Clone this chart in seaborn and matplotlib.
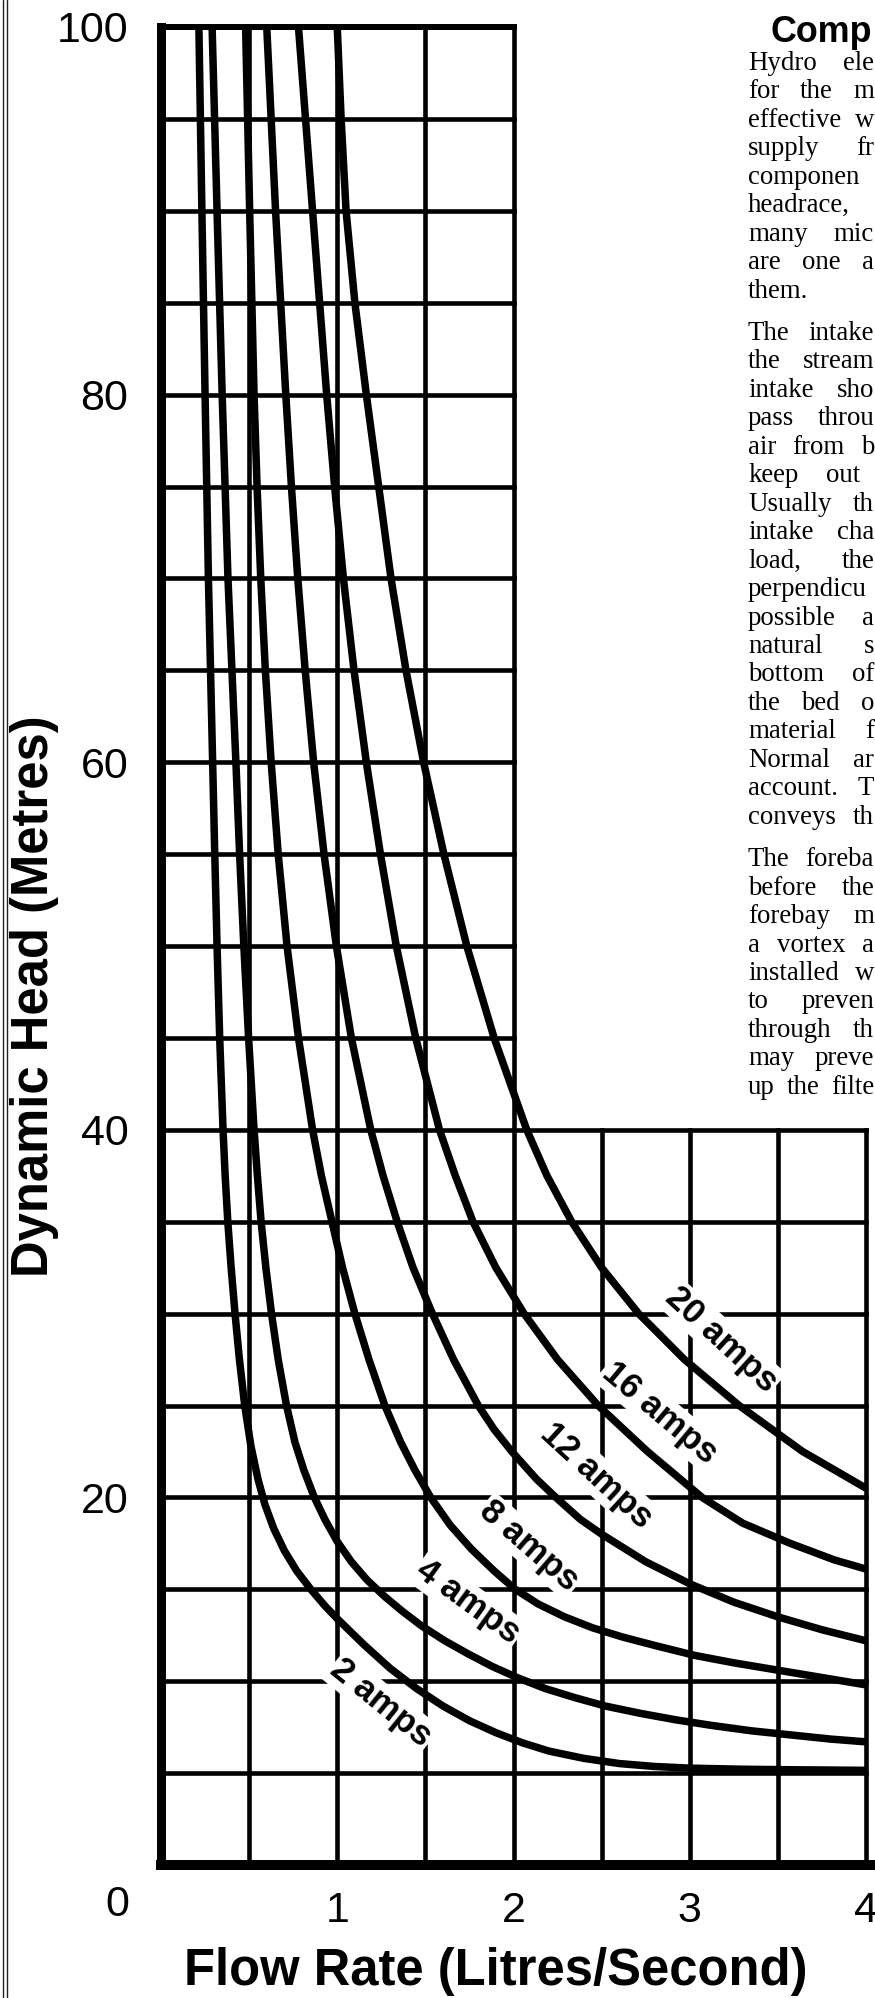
import matplotlib
matplotlib.use("Agg")
import matplotlib.pyplot as plt
from matplotlib.lines import Line2D
import numpy as np
import pandas as pd
import seaborn as sns

# ---------------- data ----------------
amps_labels = ["2 amps", "4 amps", "8 amps", "12 amps", "16 amps", "20 amps"]

q_2a = [0.215, 0.232, 0.250, 0.269, 0.293, 0.305, 0.318, 0.333, 0.352, 0.364, 0.379, 0.398,
        0.42, 0.445, 0.475, 0.51, 0.55, 0.59, 0.64, 0.70, 0.77, 0.85, 0.93, 1.0, 1.15, 1.3,
        1.45, 1.6, 1.75, 1.9, 2.05, 2.2, 2.4, 2.6, 2.8, 3.0, 3.3, 3.6, 4.0]
h_2a = [100, 90, 80, 70, 60, 55, 50, 45, 40, 37.5, 35, 32.5,
        30, 27.5, 25, 22.8, 21.0, 19.6, 18.3, 17.1, 16.0, 15.0, 14.1, 13.4, 12.0, 10.7,
        9.6, 8.65, 7.85, 7.2, 6.65, 6.2, 5.8, 5.52, 5.36, 5.27, 5.21, 5.18, 5.15]

q_4a = [0.290, 0.318, 0.347, 0.380, 0.425, 0.446, 0.470, 0.497, 0.528, 0.547, 0.568, 0.595,
        0.627, 0.665, 0.712, 0.76, 0.81, 0.87, 0.93, 1.0, 1.08, 1.17, 1.27, 1.37, 1.48,
        1.61, 1.74, 1.88, 2.02, 2.18, 2.35, 2.52, 2.72, 2.92, 3.12, 3.35, 3.6, 3.8, 4.0]
h_4a = [100, 90, 80, 70, 60, 55, 50, 45, 40, 37.5, 35, 32.5,
        30, 27.5, 25, 23, 21.5, 20, 18.8, 17.6, 16.5, 15.5, 14.6, 13.8, 13.0,
        12.2, 11.5, 10.8, 10.2, 9.6, 9.1, 8.65, 8.25, 7.9, 7.6, 7.3, 7.05, 6.85, 6.7]

q_8a = [0.48, 0.503, 0.528, 0.545, 0.566, 0.592, 0.625, 0.665, 0.715, 0.78, 0.86, 0.91,
        0.97, 1.03, 1.10, 1.18, 1.27, 1.36, 1.44, 1.53, 1.64, 1.76, 1.89, 2.01, 2.14,
        2.29, 2.45, 2.62, 2.82, 3.03, 3.25, 3.5, 3.75, 4.0]
h_8a = [100, 90, 80, 75, 70, 65, 60, 55, 50, 45, 40, 37.5,
        35, 32.5, 30, 27.5, 25, 23, 21.5, 20, 18.5, 17.2, 16, 15, 14.2,
        13.5, 12.9, 12.4, 11.9, 11.4, 11.0, 10.6, 10.2, 9.8]

q_12a = [0.60, 0.65, 0.708, 0.74, 0.776, 0.818, 0.866, 0.925, 0.995, 1.08, 1.19, 1.26,
         1.34, 1.43, 1.54, 1.66, 1.80, 1.89, 1.99, 2.13, 2.24, 2.38, 2.50, 2.75, 3.0,
         3.25, 3.5, 3.75, 4.0]
h_12a = [100, 90, 80, 75, 70, 65, 60, 55, 50, 45, 40, 37.5,
         35, 32.5, 30, 27.5, 25, 23.7, 22.5, 21, 20, 18.8, 18, 16.5, 15.3,
         14.3, 13.5, 12.8, 12.2]

q_16a = [0.78, 0.86, 0.94, 0.985, 1.035, 1.095, 1.165, 1.245, 1.335, 1.445, 1.58, 1.67,
         1.77, 1.90, 2.06, 2.25, 2.48, 2.76, 3.07, 3.30, 3.57, 3.82, 4.0]
h_16a = [100, 90, 80, 75, 70, 65, 60, 55, 50, 45, 40, 37.5,
         35, 32.5, 30, 27.5, 25, 22.5, 20, 18.6, 17.5, 16.6, 16.1]

q_20a = [1.0, 1.022, 1.05, 1.10, 1.165, 1.235, 1.305, 1.39, 1.49, 1.605, 1.735, 1.89,
         2.075, 2.19, 2.33, 2.5, 2.71, 2.97, 3.28, 3.64, 4.0]
h_20a = [100, 95, 90, 85, 80, 75, 70, 65, 60, 55, 50, 45,
         40, 37.5, 35, 32.5, 30, 27.5, 25, 22.5, 20.5]

x_ticks = [1, 2, 3, 4]
y_ticks = [20, 40, 60, 80, 100]
x_label = "Flow Rate (Litres/Second)"
y_label = "Dynamic Head (Metres)"
title_text = "Comp"

para_1 = ["Hydro ele", "for the m", "effective w", "supply fr", "componen",
          "headrace,", "many mic", "are one a", "them."]
para_2 = ["The intake", "the stream", "intake sho", "pass throu", "air from b",
          "keep out", "Usually th", "intake cha", "load, the", "perpendicu",
          "possible a", "natural s", "bottom of", "the bed o", "material f",
          "Normal ar", "account. T", "conveys th"]
para_3 = ["The foreba", "before the", "forebay m", "a vortex a", "installed w",
          "to preven", "through th", "may preve", "up the filte"]

# ---------------- styling ----------------
sns.set_theme(style="white")
plt.rcParams["font.family"] = ["Liberation Sans", "DejaVu Sans"]
SERIF = ["Liberation Serif", "DejaVu Serif"]

W, H = 875, 1998
PX = 0.72  # points per pixel at dpi 100

fig = plt.figure(figsize=(W / 100, H / 100), dpi=100)
fig.patch.set_facecolor("white")
ax = fig.add_axes([161 / W, 1 - 1865 / H, 705 / W, 1838 / H])
ax.set_facecolor("white")
ax.set_xlim(0, 4)
ax.set_ylim(0, 100)
for s in ax.spines.values():
    s.set_visible(False)
ax.grid(False)

# ---------------- grid (L-shaped) ----------------
gkw = dict(color="black", lw=4.6 * PX, clip_on=False, zorder=1, capstyle="projecting")
for xv in [0.5, 1.0, 1.5, 2.0]:
    ax.vlines(xv, 0, 100, **gkw)
for xv in [2.5, 3.0, 3.5, 4.0]:
    ax.vlines(xv, 0, 40, **gkw)
for yv in range(5, 100, 5):
    ax.hlines(yv, 0, 4 if yv <= 40 else 2, **gkw)
ax.hlines(100, 0, 2, color="black", lw=6 * PX, clip_on=False, zorder=3, capstyle="projecting")
ax.vlines(0, 0, 100, color="black", lw=9 * PX, clip_on=False, zorder=3, capstyle="projecting")
ax.hlines(0, 0, 4.07, color="black", lw=10 * PX, clip_on=False, zorder=3, capstyle="projecting")

# ---------------- curves ----------------
series = [(q_2a, h_2a), (q_4a, h_4a), (q_8a, h_8a), (q_12a, h_12a), (q_16a, h_16a), (q_20a, h_20a)]
frames = []
for lab, (q, h) in zip(amps_labels, series):
    frames.append(pd.DataFrame({"Q": q, "H": h, "amps": lab}))
df = pd.concat(frames, ignore_index=True)
sns.lineplot(data=df, x="Q", y="H", hue="amps", hue_order=amps_labels,
             palette=["black"] * len(amps_labels), sort=False, estimator=None,
             legend=False, lw=7.5 * PX, ax=ax, zorder=5,
             solid_joinstyle="round", solid_capstyle="butt")

# curve labels (position in data units, rotation in screen degrees)
label_layout = [(1.25, 8.8, -39), (1.74, 14.3, -36), (2.09, 17.35, -41),
                (2.47, 21.2, -42.5), (2.83, 24.6, -40), (3.18, 28.6, -42.5)]
for lab, (lx, ly, rot) in zip(amps_labels, label_layout):
    ax.text(lx, ly, lab, rotation=rot, rotation_mode="anchor", ha="center", va="center",
            fontsize=25, fontweight="bold", color="black", zorder=4,
            bbox=dict(facecolor="white", edgecolor="none", pad=1.5))

# ---------------- ticks & labels ----------------
ax.set_xticks(x_ticks)
ax.set_xticklabels([str(v) for v in x_ticks])
ax.set_yticks(y_ticks)
ax.set_yticklabels([str(v) for v in y_ticks])
ax.tick_params(axis="both", length=0, labelsize=31, colors="black")
ax.tick_params(axis="x", pad=19)
ax.tick_params(axis="y", pad=23.5)
fig.text(117 / W, 1 - 1905 / H, "0", ha="center", va="center", fontsize=31, color="black")

ax.set_xlabel(x_label, fontsize=36.5, fontweight="bold", color="black")
ax.xaxis.set_label_coords((496 - 161) / 705, (1865 - 1972) / 1838)
ax.xaxis.label.set_va("center")
ax.set_ylabel(y_label, fontsize=36.5, fontweight="bold", color="black")
ax.yaxis.set_label_coords((35 - 161) / 705, (1865 - 996) / 1838)
ax.yaxis.label.set_va("center")

# ---------------- page border on the left ----------------
for bx in (2.5, 7.0):
    fig.add_artist(Line2D([bx / W, bx / W], [0, 1], transform=fig.transFigure,
                          lw=1.0, color="#222222"))

# ---------------- text column (justified, ends at the page edge) ----------------
fig.text(771 / W, 1 - 42 / H, title_text, fontsize=25.8, fontweight="bold",
         ha="left", va="baseline", color="black")

renderer = fig.canvas.get_renderer()
BODY = 19.4
x0 = 748
right_px = 874
first_base = 70
step = 28.45
pgap = 14
loose = {"keep out": 860}
yb = first_base
for para in (para_1, para_2, para_3):
    for line in para:
        words = line.split(" ")
        arts = [fig.text(0, 1 - yb / H, w, fontsize=BODY, family=SERIF,
                         ha="left", va="baseline", color="black") for w in words]
        widths = [a.get_window_extent(renderer).width for a in arts]
        if len(words) > 1:
            end = loose.get(line, right_px)
            gap = (end - x0 - sum(widths)) / (len(words) - 1)
            gap = max(gap, 5.0)
        else:
            gap = 0
        xc = x0
        for a, wd in zip(arts, widths):
            a.set_x(xc / W)
            xc += wd + gap
        yb += step
    yb += pgap

fig.savefig("out.png", dpi=100, facecolor="white")
